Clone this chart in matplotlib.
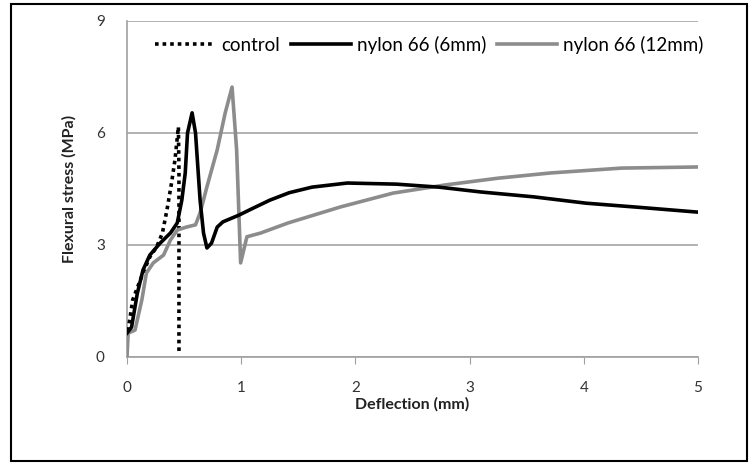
import matplotlib
matplotlib.use("Agg")
import matplotlib.pyplot as plt
from matplotlib.patches import Rectangle

# Data (deflection mm, flexural stress MPa)
control_x = [0.0, 0.01, 0.05, 0.10, 0.14, 0.20, 0.26, 0.31, 0.35, 0.39, 0.42, 0.45, 0.455, 0.455]
control_y = [0.5, 0.72, 1.53, 1.93, 2.25, 2.68, 2.95, 3.32, 3.94, 4.66, 5.28, 6.16, 5.0, 0.15]

n6_x = [0.0, 0.04, 0.09, 0.14, 0.20, 0.29, 0.38, 0.44, 0.48, 0.51, 0.53, 0.57, 0.60, 0.64, 0.67,
        0.70, 0.74, 0.79, 0.84, 0.98, 1.10, 1.25, 1.42, 1.62, 1.93, 2.36, 2.73, 3.10, 3.56, 4.02, 4.48, 5.0]
n6_y = [0.64, 0.8, 1.7, 2.33, 2.73, 3.05, 3.32, 3.59, 4.2, 4.93, 6.0, 6.54, 6.0, 4.2, 3.32,
        2.92, 3.05, 3.48, 3.62, 3.80, 3.98, 4.2, 4.40, 4.55, 4.66, 4.63, 4.55, 4.42, 4.29, 4.12, 4.01, 3.88]

n12_x = [0.0, 0.01, 0.07, 0.13, 0.17, 0.23, 0.32, 0.38, 0.44, 0.52, 0.60, 0.64, 0.70, 0.79, 0.86,
         0.92, 0.96, 0.995, 1.05, 1.17, 1.41, 1.87, 2.33, 2.79, 3.25, 3.71, 4.33, 5.0]
n12_y = [0.0, 0.64, 0.72, 1.53, 2.25, 2.52, 2.73, 3.13, 3.4, 3.48, 3.54, 3.86, 4.56, 5.55, 6.54,
         7.23, 5.55, 2.52, 3.22, 3.32, 3.59, 4.02, 4.39, 4.61, 4.79, 4.93, 5.06, 5.09]

labels = ["control", "nylon 66 (6mm)", "nylon 66 (12mm)"]
x_ticks = [0, 1, 2, 3, 4, 5]
y_ticks = [0, 3, 6, 9]

plt.rcParams['font.family'] = ['Lato', 'DejaVu Sans']

W, H = 749, 463
fig = plt.figure(figsize=(W / 100, H / 100), dpi=100)
ax = fig.add_axes([127 / W, 1 - 357 / H, (698 - 127) / W, (357 - 21) / H])

ax.plot(control_x, control_y, color='black', lw=2.6, linestyle=(0, (1, 1.1)), label=labels[0], zorder=3)
ax.plot(n6_x, n6_y, color='black', lw=2.6, label=labels[1], zorder=4)
ax.plot(n12_x, n12_y, color='#8c8c8c', lw=2.6, label=labels[2], zorder=3)

ax.set_xlim(0, 5)
ax.set_ylim(0, 9)
ax.set_xticks(x_ticks)
ax.set_yticks(y_ticks)
ax.yaxis.grid(True, color='#a6a6a6', lw=1.2)
ax.set_axisbelow(True)
for s in ['top', 'right']:
    ax.spines[s].set_visible(False)
for s in ['left', 'bottom']:
    ax.spines[s].set_color('#a0a0a0')
    ax.spines[s].set_linewidth(1.2)
ax.tick_params(axis='y', length=0, pad=16, labelsize=11, labelcolor='#333333')
ax.tick_params(axis='x', direction='out', length=5, color='#a0a0a0', pad=12, labelsize=11,
               labelcolor='#333333')

ax.set_xlabel("Deflection (mm)", fontsize=11.5, fontweight='bold', labelpad=2, color='#222222')
ax.set_ylabel("Flexural stress (MPa)", fontsize=11.5, fontweight='bold', labelpad=14, color='#222222')

leg = fig.legend(loc='center left', bbox_to_anchor=(155 / W, 1 - 45 / H), ncol=3, frameon=False,
                 fontsize=13.5, handlelength=3.2, handletextpad=0.35, columnspacing=0.55,
                 borderaxespad=0, borderpad=0)

fig.patches.append(Rectangle((11 / W, 1 - 461 / H), (747 - 11) / W, (461 - 4) / H,
                             transform=fig.transFigure, fill=False, edgecolor='black', lw=1.5))

fig.savefig("out.png", dpi=100)
